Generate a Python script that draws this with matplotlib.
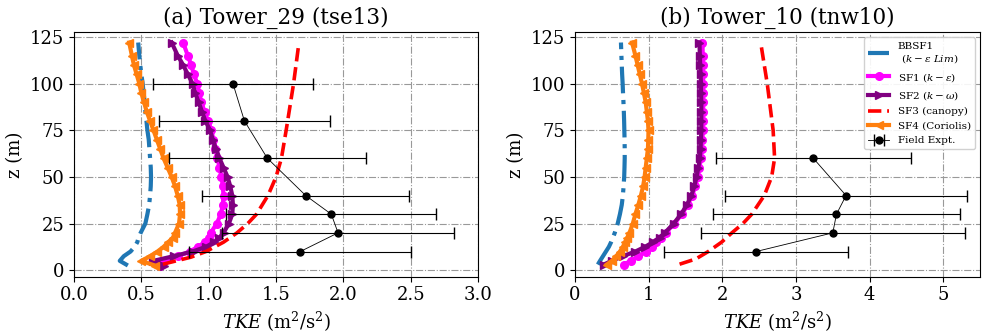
import numpy as np
import matplotlib.pyplot as plt

plt.rcParams['font.family'] = 'DejaVu Serif'
plt.rcParams['mathtext.fontset'] = 'dejavuserif'

# ---------------- Tower_29 (tse13) ----------------
z_a = [2.5, 5, 7.5, 10, 12.5, 15, 17.5, 20, 25, 30, 35, 40, 45, 50, 55, 60,
       65, 70, 75, 80, 85, 90, 95, 100, 105, 110, 115, 122]
bbsf1_a = [0.40, 0.34, 0.37, 0.42, 0.45, 0.47, 0.48, 0.495, 0.53, 0.545, 0.558, 0.565,
           0.57, 0.572, 0.57, 0.565, 0.56, 0.555, 0.545, 0.538, 0.53, 0.525, 0.517,
           0.51, 0.50, 0.492, 0.485, 0.477]
sf1_a = [0.64, 0.67, 0.77, 0.86, 0.92, 0.97, 1.0, 1.015, 1.06, 1.09, 1.105, 1.11,
         1.105, 1.095, 1.08, 1.065, 1.05, 1.035, 1.02, 0.995, 0.97, 0.945, 0.93,
         0.915, 0.89, 0.87, 0.845, 0.81]
sf2_a = [0.67, 0.59, 0.74, 0.88, 0.98, 1.04, 1.08, 1.11, 1.15, 1.175, 1.18, 1.175,
         1.16, 1.14, 1.11, 1.08, 1.055, 1.03, 1.01, 0.975, 0.95, 0.925, 0.90,
         0.88, 0.845, 0.81, 0.77, 0.725]
sf4_a = [0.60, 0.50, 0.565, 0.62, 0.665, 0.70, 0.735, 0.75, 0.78, 0.787, 0.785, 0.77,
         0.75, 0.725, 0.695, 0.665, 0.64, 0.615, 0.59, 0.565, 0.54, 0.52, 0.50,
         0.485, 0.465, 0.445, 0.43, 0.41]
z3_a = [3.2, 5, 7, 10, 15, 20, 25, 30, 40, 50, 60, 75, 100, 122]
sf3_a = [0.66, 0.76, 0.87, 0.98, 1.11, 1.21, 1.29, 1.355, 1.44, 1.50, 1.54, 1.575, 1.63, 1.67]
zf_a = [10, 20, 30, 40, 60, 80, 100]
tke_a = [1.68, 1.96, 1.91, 1.72, 1.435, 1.265, 1.18]
err_a = [0.825, 0.86, 0.78, 0.77, 0.73, 0.635, 0.595]

# ---------------- Tower_10 (tnw10) ----------------
z_b = [3, 5, 7.5, 10, 12.5, 15, 17.5, 20, 25, 30, 35, 40, 45, 50, 55, 60,
       65, 70, 75, 80, 85, 90, 95, 100, 105, 110, 115, 122]
bbsf1_b = [0.31, 0.34, 0.38, 0.42, 0.46, 0.49, 0.515, 0.54, 0.58, 0.61, 0.635, 0.65,
           0.66, 0.668, 0.672, 0.675, 0.675, 0.673, 0.67, 0.667, 0.663, 0.658, 0.652,
           0.647, 0.64, 0.635, 0.63, 0.624]
sf1_b = [0.66, 0.76, 0.86, 0.96, 1.04, 1.10, 1.17, 1.23, 1.35, 1.45, 1.53, 1.59,
         1.635, 1.665, 1.69, 1.71, 1.72, 1.73, 1.735, 1.74, 1.74, 1.74, 1.74,
         1.74, 1.74, 1.735, 1.735, 1.73]
sf2_b = [0.39, 0.50, 0.65, 0.82, 0.95, 1.06, 1.15, 1.22, 1.34, 1.44, 1.52, 1.58,
         1.62, 1.65, 1.675, 1.695, 1.705, 1.71, 1.715, 1.715, 1.715, 1.715, 1.712,
         1.71, 1.705, 1.70, 1.695, 1.69]
sf4_b = [0.43, 0.50, 0.56, 0.61, 0.65, 0.68, 0.71, 0.74, 0.785, 0.82, 0.86, 0.895,
         0.925, 0.945, 0.96, 0.975, 0.99, 0.995, 0.998, 0.99, 0.975, 0.96, 0.935,
         0.91, 0.88, 0.85, 0.82, 0.775]
z3_b = [3.2, 6, 10, 15, 20, 25, 30, 40, 50, 60, 75, 100, 121]
sf3_b = [1.42, 1.64, 1.81, 1.99, 2.13, 2.28, 2.40, 2.57, 2.67, 2.71, 2.69, 2.61, 2.525]
zf_b = [10, 20, 30, 40, 60]
tke_b = [2.46, 3.50, 3.55, 3.68, 3.235]
err_b = [1.25, 1.79, 1.68, 1.645, 1.325]

panels = [
    ('(a) Tower_29 (tse13)', z_a, bbsf1_a, sf1_a, sf2_a, sf4_a, z3_a, sf3_a,
     zf_a, tke_a, err_a, 3.0, np.arange(0, 3.01, 0.5)),
    ('(b) Tower_10 (tnw10)', z_b, bbsf1_b, sf1_b, sf2_b, sf4_b, z3_b, sf3_b,
     zf_b, tke_b, err_b, 5.5, np.arange(0, 6, 1)),
]

fig = plt.figure(figsize=(9.9, 3.36), dpi=100)
axes = [fig.add_axes([0.0747, 0.1765, 0.4083, 0.7275]),
        fig.add_axes([0.5808, 0.1765, 0.4092, 0.7275])]

for ax, p in zip(axes, panels):
    title, z, b1, s1, s2, s4, z3, s3, zf, tk, er, xmax, xt = p
    ax.plot(b1, z, '-.', color='#1f77b4', lw=3, label='BBSF1\n $(k-\\varepsilon\\ Lim)$')
    ax.plot(s1, z, '-', color='magenta', lw=3, marker='o', ms=5.5,
            label='SF1 $(k-\\varepsilon)$')
    ax.plot(s2, z, '-', color='purple', lw=3, marker='>', ms=5.5,
            label='SF2 $(k-\\omega)$')
    ax.plot(s3, z3, '--', color='red', lw=2.6, label='SF3 (canopy)')
    ax.plot(s4, z, '-', color='#ff7f0e', lw=3, marker='<', ms=5.5,
            label='SF4 (Coriolis)')
    ax.errorbar(tk, zf, xerr=er, fmt='o-', color='black', ms=5, lw=0.6,
                elinewidth=0.8, capsize=4, label='Field Expt.')
    ax.set_xlim(0, xmax)
    ax.set_ylim(-3.5, 127.5)
    ax.set_xticks(xt)
    ax.set_yticks([0, 25, 50, 75, 100, 125])
    ax.tick_params(labelsize=13)
    ax.grid(True, linestyle='-.', color='0.6', lw=0.8)
    ax.set_title(title, fontsize=15.5)
    ax.set_xlabel('$TKE$ (m$^2$/s$^2$)', fontsize=13)
    ax.set_ylabel('z (m)', fontsize=13)

axes[1].legend(loc='upper right', fontsize=7.5, framealpha=0.9)

fig.savefig('out.png', dpi=100)
